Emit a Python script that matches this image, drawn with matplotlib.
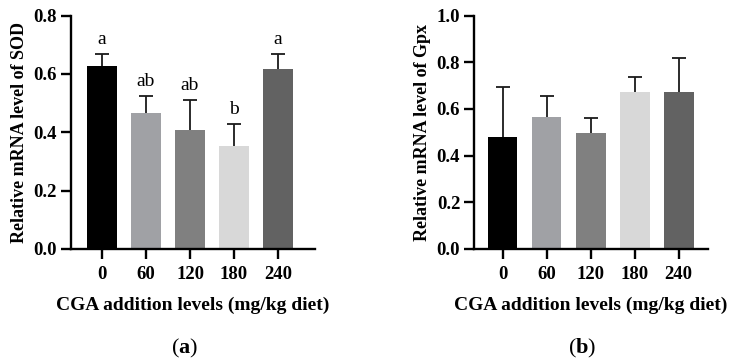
import numpy as np
import matplotlib.pyplot as plt

plt.rcParams['font.family'] = ['Liberation Serif', 'DejaVu Serif']
plt.rcParams['mathtext.fontset'] = 'custom'
plt.rcParams['mathtext.rm'] = 'Liberation Serif'
plt.rcParams['mathtext.bf'] = 'Liberation Serif:bold'

# data
levels = ['0', '60', '120', '180', '240']
sod_mean = [0.628, 0.467, 0.408, 0.354, 0.616]
sod_err = [0.041, 0.058, 0.103, 0.076, 0.052]
sod_letters = ['a', 'ab', 'ab', 'b', 'a']
gpx_mean = [0.479, 0.564, 0.496, 0.674, 0.674]
gpx_err = [0.214, 0.090, 0.064, 0.062, 0.146]
bar_colors = ['#000000', '#a0a1a5', '#808080', '#d8d8d8', '#626262']

fig = plt.figure(figsize=(7.38, 3.62), dpi=100)
ax1 = fig.add_axes([0.0962, 0.3122, 0.3306, 0.6446])
ax2 = fig.add_axes([0.6423, 0.3122, 0.3171, 0.6446])


def draw(ax, mean, err, ymax, ylabel, xlim):
    x = np.arange(len(levels))
    ax.bar(x, mean, width=0.68, color=bar_colors, zorder=2)
    # only the upper half of the error bar, no cap at the bar top
    _, caps, _ = ax.errorbar(x, mean, yerr=[np.zeros(len(err)), err], fmt='none',
                             ecolor='#1a1a1a', elinewidth=1.3, capsize=5,
                             capthick=1.3, zorder=1)
    caps[0].set_visible(False)
    ax.set_xlim(*xlim)
    ax.set_ylim(0, ymax)
    ax.set_yticks(np.arange(0, ymax + 0.01, 0.2))
    ax.yaxis.set_major_formatter(plt.FormatStrFormatter('%.1f'))
    ax.set_xticks(x)
    ax.set_xticklabels(levels)
    for s in ['top', 'right']:
        ax.spines[s].set_visible(False)
    for s in ['left', 'bottom']:
        ax.spines[s].set_linewidth(1.7)
    ax.tick_params(axis='both', direction='out', length=7, width=1.7,
                   labelsize=13.5, pad=3)
    ax.tick_params(axis='x', pad=5)
    for lab in ax.get_xticklabels() + ax.get_yticklabels():
        lab.set_fontweight('bold')
    ax.set_ylabel(ylabel, fontsize=13, fontweight='bold', labelpad=4)
    ax.set_xlabel('CGA addition levels (mg/kg diet)', fontsize=14,
                  fontweight='bold', labelpad=10)


draw(ax1, sod_mean, sod_err, 0.8, 'Relative mRNA level of SOD', (-0.705, 4.84))
draw(ax2, gpx_mean, gpx_err, 1.0, 'Relative mRNA level of Gpx', (-0.648, 4.67))

for i, t in enumerate(sod_letters):
    ax1.text(i, sod_mean[i] + sod_err[i] + 0.02, t, ha='center', va='bottom',
             fontsize=14)

fig.text(0.2507, 0.038, r'($\mathbf{a}$)', ha='center', va='center', fontsize=16)
fig.text(0.7886, 0.038, r'($\mathbf{b}$)', ha='center', va='center', fontsize=16)

plt.savefig('out.png', dpi=100)
